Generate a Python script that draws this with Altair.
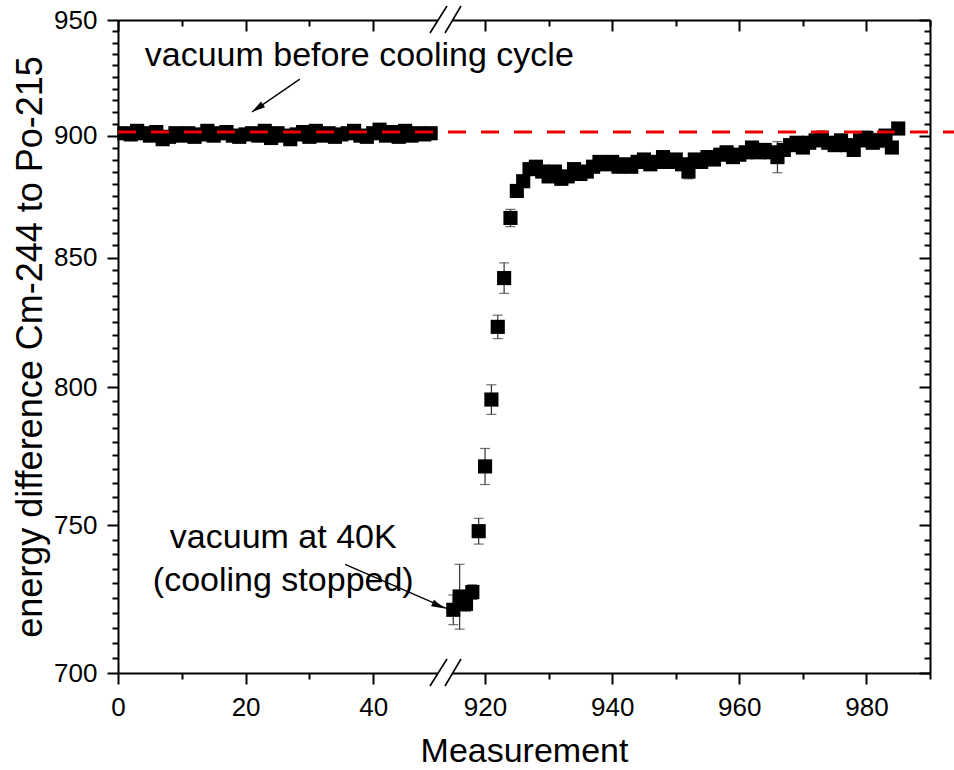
import altair as alt
import pandas as pd

# ---------------- data ----------------
left_x = list(range(1, 50))
left_y = [901.0, 900.5, 902.0, 901.0, 900.0, 901.5, 898.5, 899.5, 901.0, 900.0,
          901.0, 899.5, 900.5, 902.0, 900.0, 901.0, 901.5, 900.0, 899.5, 900.5,
          901.0, 900.0, 902.0, 899.0, 901.0, 900.0, 898.5, 900.5, 901.5, 899.5,
          902.0, 900.0, 901.0, 899.5, 900.5, 901.0, 902.0, 900.0, 899.5, 901.0,
          902.5, 900.0, 901.5, 899.5, 902.0, 900.0, 901.0, 900.5, 901.0]
left_err = [1.5, 1.2, 1.6, 1.4, 1.3, 1.5, 1.7, 1.4, 1.2, 1.5,
            1.3, 1.6, 1.4, 1.5, 1.3, 1.2, 1.4, 1.6, 1.5, 1.3,
            1.4, 1.2, 1.5, 1.7, 1.3, 1.4, 1.6, 1.2, 1.5, 1.4,
            1.3, 1.5, 1.2, 1.6, 1.4, 1.3, 1.5, 1.4, 1.6, 1.2,
            1.5, 1.3, 1.4, 1.6, 1.5, 1.2, 1.4, 1.3, 1.5]

right_x = list(range(915, 986))
right_y = [721, 725.5, 723, 727, 748, 771, 795.5, 823, 842, 866,
           877, 881, 886, 887, 885, 883, 885, 882, 883, 886,
           884, 885, 887, 889, 888, 889, 887, 888, 887, 889,
           890, 888, 889, 891, 889, 890, 888, 885, 890, 889,
           891, 890, 892, 893, 891, 892, 893, 895, 893, 894,
           893, 891, 894, 896, 897, 895, 897, 898, 899, 897,
           896, 898, 896, 894, 898, 899, 897, 898, 900, 895,
           903]
right_err = [5.0, 11.0, 2.5, 2.5, 4.5, 6.5, 5.5, 4.5, 6.0, 3.5,
             2.5, 2.0, 2.0, 2.0, 2.0, 2.5, 2.0, 2.0, 2.0, 2.0,
             2.0, 2.0, 2.0, 2.5, 2.0, 2.0, 2.0, 2.0, 2.0, 2.0,
             2.0, 2.0, 2.0, 2.0, 2.0, 2.0, 2.0, 3.0, 2.0, 2.0,
             2.0, 2.0, 2.0, 2.0, 2.0, 2.0, 2.0, 2.0, 2.0, 2.0,
             2.0, 6.5, 2.0, 2.0, 2.0, 2.0, 2.0, 2.0, 3.0, 2.0,
             2.0, 2.0, 2.0, 2.0, 2.0, 3.0, 2.0, 3.0, 2.0, 2.0,
             2.0]

reference_level = [901.5]

x_major = [0, 20, 40, 920, 940, 960, 980]
x_minor = [10, 30, 930, 950, 970, 990]
y_major = [700, 750, 800, 850, 900, 950]
y_minor = [v for v in range(705, 950, 5) if v % 50 != 0]

break_left, break_right = 51.25, 913.7

labels_text = ["vacuum before cooling cycle", "vacuum at 40K", "(cooling stopped)"]
labels_x = [4.2, 25.9, 25.9]
labels_y = [934.1, 745.6, 730.7]

arrow_x1 = [28.5, 35.6]
arrow_y1 = [924.1, 736.5]
arrow_x2 = [21.0, 914.0]
arrow_y2 = [910.0, 721.4]
head_x = [21.9, 50.2]
head_y = [911.7, 722.4]
head_angle = [235.5, 114.2]

# ---------------- frames ----------------
pts = pd.DataFrame({
    "x": left_x + right_x,
    "y": left_y + right_y,
    "err": left_err + right_err,
})
pts["lo"] = pts["y"] - pts["err"]
pts["hi"] = pts["y"] + pts["err"]

line_df = pd.DataFrame({"v": reference_level, "xa": [0], "xb": [990]})
txt_df = pd.DataFrame({"tx": labels_x, "ty": labels_y, "t": labels_text})
arr_df = pd.DataFrame({"ax": arrow_x1, "ay": arrow_y1, "ax2": arrow_x2, "ay2": arrow_y2})
head_df = pd.DataFrame({"hx": head_x, "hy": head_y, "ang": head_angle})
brk_df = pd.DataFrame({"bx": [break_left, break_left], "by": [700, 950]})

FONT = "Liberation Sans"
W, H = 812, 653
BPX = 327

xs = alt.Scale(domain=[0, break_left, break_right, 990], range=[0, BPX, BPX, W],
               nice=False, zero=False)
ys = alt.Scale(type="log", domain=[700, 950], nice=False)

common = dict(grid=False, labelFont=FONT, titleFont=FONT, labelColor="black",
              titleColor="black", tickColor="black", domainColor="black",
              titleFontWeight="normal")


def hidden_axis(orient, values=None, tick=0, offset=0, domain=False):
    kw = dict(orient=orient, labels=False, title=None, domain=domain,
              domainWidth=2, offset=offset, **common)
    if values is not None and tick > 0:
        kw.update(values=values, ticks=True, tickSize=tick, tickWidth=2)
    else:
        kw.update(ticks=False, values=[])
    return alt.Axis(**kw)


base = alt.Chart(pts)

errbars = base.mark_errorbar(ticks=True, size=10, thickness=1.2, color="#333333").encode(
    x=alt.X("x:Q", scale=xs, axis=None),
    y=alt.Y("lo:Q", scale=ys, axis=None),
    y2="hi:Q",
)

squares = base.mark_square(size=200, color="black", opacity=1).encode(
    x=alt.X("x:Q", scale=xs, axis=alt.Axis(
        orient="bottom", values=x_major, tickSize=11, tickWidth=2, domainWidth=2,
        labelFontSize=26, titleFontSize=34, title="Measurement",
        labelPadding=10, titlePadding=14, labelFlush=False, **common)),
    y=alt.Y("y:Q", scale=ys, axis=alt.Axis(
        orient="left", values=y_major, tickSize=11, tickWidth=2, domainWidth=2,
        labelFontSize=26, titleFontSize=36,
        title="energy difference Cm-244 to Po-215",
        labelPadding=10, titlePadding=4, labelFlush=False, **common)),
)

ghost = base.mark_point(opacity=0)
minor_out = ghost.encode(
    x=alt.X("x:Q", scale=xs, axis=hidden_axis("bottom", x_minor, 6)),
    y=alt.Y("y:Q", scale=ys, axis=hidden_axis("left", y_minor, 6)),
)
frame = ghost.encode(
    x=alt.X("x:Q", scale=xs, axis=hidden_axis("top", domain=True)),
    y=alt.Y("y:Q", scale=ys, axis=hidden_axis("right", domain=True)),
)
inner_major = ghost.encode(
    x=alt.X("x:Q", scale=xs, axis=hidden_axis("top", x_major, 11, offset=-11)),
    y=alt.Y("y:Q", scale=ys, axis=hidden_axis("right", y_major, 11, offset=-11)),
)
inner_minor = ghost.encode(
    x=alt.X("x:Q", scale=xs, axis=hidden_axis("top", x_minor, 6, offset=-6)),
    y=alt.Y("y:Q", scale=ys, axis=hidden_axis("right", y_minor, 6, offset=-6)),
)

redline = alt.Chart(line_df).mark_rule(color="#ee0000", strokeWidth=3,
                                       strokeDash=[18, 15], x2Offset=24).encode(
    x=alt.X("xa:Q", scale=xs, axis=None), x2="xb:Q",
    y=alt.Y("v:Q", scale=ys, axis=None),
)

brk_base = alt.Chart(brk_df)
brk_enc = dict(
    x=alt.X("bx:Q", scale=xs, axis=None), x2="bx:Q",
    y=alt.Y("by:Q", scale=ys, axis=None), y2="by:Q",
)
brk_white = brk_base.mark_rect(color="white", xOffset=-7, x2Offset=7,
                               yOffset=-4, y2Offset=4).encode(**brk_enc)
slash1 = brk_base.mark_rule(color="black", strokeWidth=1.6, xOffset=-15, x2Offset=2,
                            yOffset=13, y2Offset=-14).encode(**brk_enc)
slash2 = brk_base.mark_rule(color="black", strokeWidth=1.6, xOffset=0, x2Offset=16,
                            yOffset=13, y2Offset=-14).encode(**brk_enc)

text_enc = dict(
    x=alt.X("tx:Q", scale=xs, axis=None),
    y=alt.Y("ty:Q", scale=ys, axis=None),
    text="t:N",
)
text_left = alt.Chart(txt_df.iloc[[0]]).mark_text(
    font=FONT, fontSize=34, color="black", baseline="middle", align="left").encode(**text_enc)
text_center = alt.Chart(txt_df.iloc[[1, 2]]).mark_text(
    font=FONT, fontSize=34, color="black", baseline="middle", align="center").encode(**text_enc)

arrows = alt.Chart(arr_df).mark_rule(color="black", strokeWidth=1.3).encode(
    x=alt.X("ax:Q", scale=xs, axis=None), x2="ax2:Q",
    y=alt.Y("ay:Q", scale=ys, axis=None), y2="ay2:Q",
)
heads = alt.Chart(head_df).mark_point(shape="M0,-1L0.5,0.9L-0.5,0.9Z", filled=True,
                                      color="black", opacity=1, size=200).encode(
    x=alt.X("hx:Q", scale=xs, axis=None),
    y=alt.Y("hy:Q", scale=ys, axis=None),
    angle=alt.Angle("ang:Q", scale=None),
)

chart = alt.layer(
    minor_out, frame, inner_major, inner_minor,
    errbars, squares, redline, arrows, heads,
    brk_white, slash1, slash2, text_left, text_center,
).resolve_scale(x="shared", y="shared").resolve_axis(
    x="independent", y="independent"
).properties(
    width=W, height=H,
    autosize=alt.AutoSizeParams(type="none"),
    padding={"left": 118, "top": 20, "right": 24, "bottom": 97},
).configure_view(stroke=None).configure(background="white")

chart.save("out.html", embed_options={"renderer": "svg", "actions": False})
